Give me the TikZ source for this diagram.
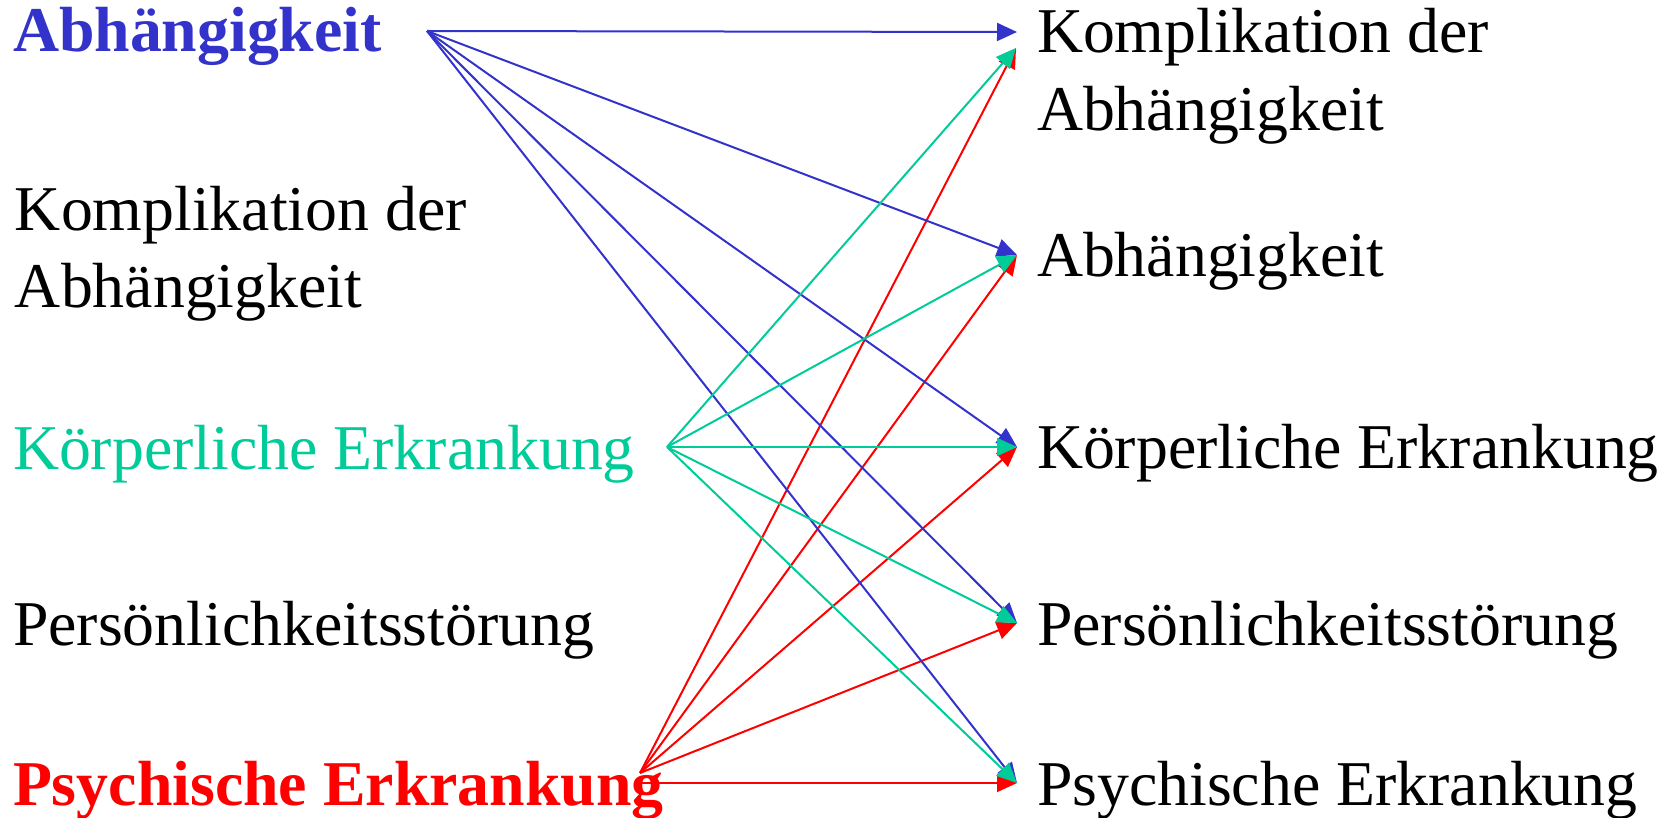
\documentclass[tikz,border=0pt]{standalone}
\usepackage{fontspec}
\setmainfont{Liberation Serif}
\usetikzlibrary{arrows.meta}
\definecolor{cblue}{HTML}{3333CC}
\definecolor{cgreen}{HTML}{00CC99}
\definecolor{cred}{HTML}{FF0000}
\begin{document}
\begin{tikzpicture}[x=0.5pt,y=-0.5pt,
  lbl/.style={anchor=base west, inner sep=0pt, outer sep=0pt, align=left,
    font=\fontsize{31.9}{38.75}\selectfont},
  lblb/.style={lbl, font=\fontsize{31.9}{38.75}\selectfont\bfseries},
  conn/.style={line width=1pt, -{Triangle[length=10pt,width=9pt]}},
]
\useasboundingbox (0,0) rectangle (1678,818);
% left column (two-line nodes are placed at the baseline of their last line)
\node[lblb, text=cblue] (LAbh) at (13,52) {Abhängigkeit};
\node[lbl] (LKomp) at (15,307.5) {Komplikation der\\Abhängigkeit};
\node[lbl, text=cgreen] (LKoer) at (13,470) {Körperliche Erkrankung};
\node[lbl] (LPers) at (13,646) {Persönlichkeitsstörung};
\node[lblb, text=cred] (LPsy) at (13,805) {Psychische Erkrankung};
% right column
\node[lbl] (RKomp) at (1037,130.5) {Komplikation der\\Abhängigkeit};
\node[lbl] (RAbh) at (1037,277) {Abhängigkeit};
\node[lbl] (RKoer) at (1037,469) {Körperliche Erkrankung};
\node[lbl] (RPers) at (1037,646) {Persönlichkeitsstörung};
\node[lbl] (RPsy) at (1037,805) {Psychische Erkrankung};
% connector ends
\coordinate (sA) at (427,31);
\coordinate (sK) at (667,447);
\coordinate (sP) at (640,773);
\coordinate (sPh) at (640,783);
\coordinate (tK1) at (1017,32);
\coordinate (tK2) at (1016,48);
\coordinate (tA) at (1017,255);
\coordinate (tKo) at (1017,447);
\coordinate (tPe) at (1017,623);
\coordinate (tPs) at (1017,783);
% red
\foreach \t in {tK2,tA,tKo,tPe} \draw[conn, cred] (sP) -- (\t);
\draw[conn, cred] (sPh) -- (tPs);
% blue
\foreach \t in {tK1,tA,tKo,tPe,tPs} \draw[conn, cblue] (sA) -- (\t);
% green
\foreach \t in {tK2,tA,tKo,tPe,tPs} \draw[conn, cgreen] (sK) -- (\t);
\end{tikzpicture}
\end{document}
